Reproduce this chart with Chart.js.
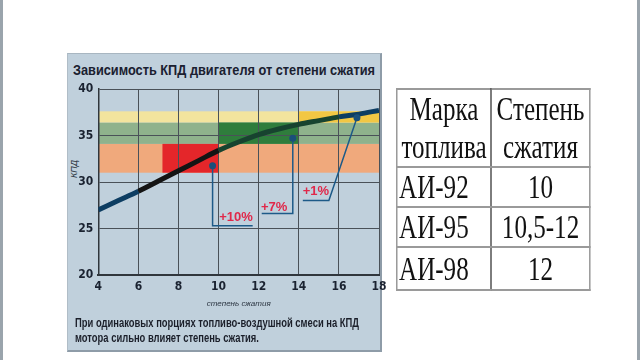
<!DOCTYPE html>
<html>
<head>
<meta charset="utf-8">
<script src="https://cdn.jsdelivr.net/npm/chart.js@4/dist/chart.umd.min.js"></script>
<style>
  html,body{margin:0;padding:0;}
  body{width:640px;height:360px;background:#fff;position:relative;overflow:hidden;}
  .edge{position:absolute;top:0;height:360px;width:3px;background:#9aa4ac;}
  #panel{position:absolute;left:67px;top:53px;width:315px;height:299px;box-sizing:border-box;
    background:#c0d0dc;border-top:1px solid #a8b6c1;border-left:1px solid #b0bdc7;
    border-right:2px solid #8e9ca8;border-bottom:2px solid #8e9ca8;}
  .fit{position:absolute;white-space:nowrap;transform-origin:0 0;}
  #title{left:73px;top:62px;font:bold 14px/16px "Liberation Sans",Arial,sans-serif;color:#1a2030;}
  #ytitle{position:absolute;left:59px;top:164px;width:30px;text-align:center;transform:rotate(-90deg);
    font:italic 9px "Liberation Sans",sans-serif;color:#2a3440;}
  #wrap{position:absolute;left:60px;top:53px;width:340px;height:299px;}
  #note{left:75px;top:316px;font:bold 12px/15px "Liberation Sans",Arial,sans-serif;color:#1b1f2a;}
  #tbl{position:absolute;left:396px;top:88px;transform:scaleX(0.76);transform-origin:0 0;}
  table{border-collapse:collapse;width:256px;font-family:"Liberation Serif","Times New Roman",serif;font-size:33px;color:#111;}
  td{border:2px solid #9a9a9a;padding:0;white-space:nowrap;}
  td.c1{width:124px;border-right:2px solid #555;}
  td.c2{width:132px;text-align:center;}
  tr.h td{height:76px;line-height:38px;text-align:center;}
  tr.r td{height:38px;line-height:38px;}
  tr.r td.c1{padding-left:2px;text-align:left;}
  tr.last td{height:41px;}
</style>
</head>
<body>
<div class="edge" style="left:0"></div>
<div class="edge" style="left:637px"></div>
<div id="panel"></div>
<div id="title" class="fit" data-w="302">Зависимость КПД двигателя от степени сжатия</div>
<div id="ytitle">КПД</div>
<div id="wrap"><canvas id="c" width="340" height="299"></canvas></div>
<div id="note" class="fit" data-w="284">При одинаковых порциях топливо-воздушной смеси на КПД<br>мотора сильно влияет степень сжатия.</div>
<div id="tbl">
<table>
  <tr class="h"><td class="c1">Марка<br>топлива</td><td class="c2">Степень<br>сжатия</td></tr>
  <tr class="r"><td class="c1">АИ-92</td><td class="c2">10</td></tr>
  <tr class="r"><td class="c1">АИ-95</td><td class="c2">10,5-12</td></tr>
  <tr class="r last"><td class="c1">АИ-98</td><td class="c2">12</td></tr>
</table>
</div>
<script>
// ---- data ----
const curveX = [4, 5, 6, 7, 8, 9, 10, 11, 12, 13, 14, 15, 16, 17, 18];
const curveY = [27.0, 28.0, 29.0, 30.1, 31.2, 32.3, 33.4, 34.3, 35.1, 35.7, 36.2, 36.6, 37.0, 37.3, 37.7];

// horizontal zones (full width)
const bandX0 = [4, 4, 4];
const bandX1 = [18, 18, 18];
const bandY0 = [31.0, 34.1, 36.4];
const bandY1 = [34.1, 36.4, 37.6];
const bandColors = ['#f0a97c', '#8fb28c', '#f3e49e'];

// highlighted blocks
const blockX0 = [7.2, 10, 14];
const blockX1 = [10, 14, 18];
const blockY0 = [31.0, 34.1, 36.4];
const blockY1 = [34.1, 36.4, 37.6];
const blockColors = ['#e4262a', '#2f7d3c', '#f2c744'];

// annotation leader lines
const ann1X = [9.7, 9.7, 11.7];
const ann1Y = [31.75, 25.3, 25.3];
const ann2X = [13.7, 13.7, 12.15];
const ann2Y = [34.7, 26.6, 26.6];
const ann3X = [16.9, 15.5, 14.2];
const ann3Y = [36.9, 28.0, 28.0];

const labelTexts = ['+10%', '+7%', '+1%'];
const labelX = [10.87, 12.77, 14.85];
const labelY = [26.15, 27.3, 29.0];

const xTicks = [4, 6, 8, 10, 12, 14, 16, 18];
const yTicks = [20, 25, 30, 35, 40];

// fit condensed text blocks to their measured widths
document.querySelectorAll('.fit').forEach(el => {
  const w = el.getBoundingClientRect().width;
  const target = parseFloat(el.dataset.w);
  el.style.transform = 'scaleX(' + (target / w) + ')';
});

// ---- helpers ----
const pts = (xs, ys) => xs.map((x, i) => ({x, y: ys[i]}));

const zonesPlugin = {
  id: 'zones',
  beforeDraw(chart) {
    const {ctx, scales: {x, y}} = chart;
    ctx.save();
    const fill = (x0, x1, y0, y1, col) => {
      const px0 = x.getPixelForValue(x0), px1 = x.getPixelForValue(x1);
      const py0 = y.getPixelForValue(y1), py1 = y.getPixelForValue(y0);
      ctx.fillStyle = col;
      ctx.fillRect(px0, py0, px1 - px0, py1 - py0);
    };
    bandColors.forEach((c, i) => fill(bandX0[i], bandX1[i], bandY0[i], bandY1[i], c));
    blockColors.forEach((c, i) => fill(blockX0[i], blockX1[i], blockY0[i], blockY1[i], c));
    ctx.restore();
  }
};

const labelsPlugin = {
  id: 'annLabels',
  afterDatasetsDraw(chart) {
    const {ctx, scales: {x, y}} = chart;
    ctx.save();
    ctx.font = 'bold 13px "Liberation Sans", Arial, sans-serif';
    ctx.textAlign = 'center';
    ctx.textBaseline = 'middle';
    ctx.fillStyle = '#e0284a';
    labelTexts.forEach((t, i) => {
      ctx.fillText(t, x.getPixelForValue(labelX[i]), y.getPixelForValue(labelY[i]));
    });
    ctx.restore();
  }
};

const annStyle = {
  showLine: true,
  borderColor: '#1d5a88',
  borderWidth: 1.5,
  pointRadius: [3.5, 0, 0],
  pointBackgroundColor: '#1a4f7a',
  pointBorderWidth: 0,
  tension: 0,
  order: 1
};

const tickFont = {family: '"DejaVu Sans Condensed","Liberation Sans",sans-serif', size: 12, weight: 'bold'};

new Chart(document.getElementById('c'), {
  type: 'scatter',
  data: {
    datasets: [
      Object.assign({data: pts(ann1X, ann1Y)}, annStyle),
      Object.assign({data: pts(ann2X, ann2Y)}, annStyle),
      Object.assign({data: pts(ann3X, ann3Y)}, annStyle),
      {
        data: pts(curveX, curveY),
        showLine: true,
        borderWidth: 5,
        borderColor: '#0d3d62',
        pointRadius: 0,
        cubicInterpolationMode: 'monotone',
        order: 2,
        segment: {
          borderColor: c => {
            const x0 = c.p0.parsed.x;
            if (x0 >= 6 && x0 < 10) return '#141414';
            if (x0 >= 10 && x0 < 16) return '#17432f';
            return '#0d3d62';
          }
        }
      }
    ]
  },
  options: {
    responsive: false,
    animation: false,
    devicePixelRatio: 1,
    layout: {padding: {left: 0, right: 21, top: 36, bottom: 41}},
    plugins: {legend: {display: false}, tooltip: {enabled: false}},
    scales: {
      x: {
        type: 'linear', min: 4, max: 18,
        afterBuildTicks: s => { s.ticks = xTicks.map(v => ({value: v})); },
        afterFit: s => { s.height = 36; },
        ticks: {font: tickFont, color: '#1a2230', padding: 5},
        grid: {color: '#4a5158', lineWidth: 1, drawTicks: false},
        border: {color: '#30363c', width: 2},
        title: {display: true, text: 'степень сжатия', color: '#2a3440',
          font: {family: '"Liberation Sans",sans-serif', size: 8, style: 'italic'}, padding: {top: 2, bottom: 2}}
      },
      y: {
        type: 'linear', min: 20, max: 40,
        afterBuildTicks: s => { s.ticks = yTicks.map(v => ({value: v})); },
        afterFit: s => { s.width = 38.3; },
        ticks: {font: tickFont, color: '#1a2230', padding: 5},
        grid: {color: '#4a5158', lineWidth: 1, drawTicks: false},
        border: {color: '#30363c', width: 1.5}
      }
    }
  },
  plugins: [zonesPlugin, labelsPlugin]
});
</script>
</body>
</html>
